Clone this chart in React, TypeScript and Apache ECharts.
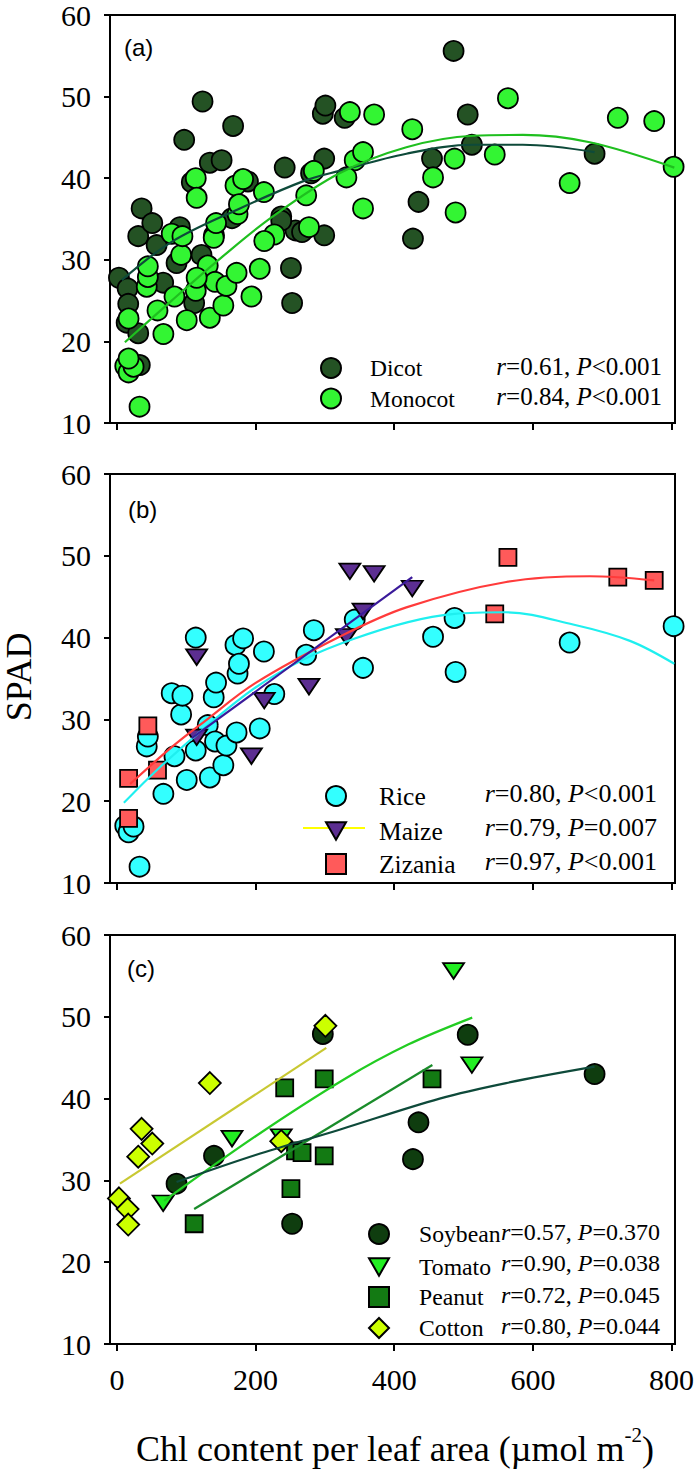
import React, { useEffect, useRef } from 'react';
import * as echarts from 'echarts';

// ---------- tick values ----------
const xTicks = [0, 200, 400, 600, 800];

// ---------- panel (b): monocots ----------
const rice: [number, number][] = [
  [12, 17.0], [16.8, 16.2], [24, 16.9], [32.6, 12.0], [43, 26.7], [44.6, 27.9], [67, 20.9],
  [79, 33.2], [83, 25.5], [92.6, 30.6], [94.5, 32.9], [100.7, 22.6], [113.7, 40.0], [113.7, 26.2],
  [131, 29.3], [134, 22.9], [139.6, 32.7], [141.5, 27.3], [143, 34.5], [153.5, 24.4], [158, 26.8],
  [171, 39.1], [172.6, 28.4], [174, 35.6], [176, 36.8], [182, 39.9], [206, 28.9], [212, 38.3],
  [227, 33.1], [273, 37.9], [284, 40.9], [343, 42.2], [355, 36.3], [456, 40.1], [487, 42.4],
  [488.5, 35.8], [653, 39.4], [803, 41.4],
];
const maize: [number, number][] = [
  [115, 37.6], [115, 27.8], [194, 25.5], [212.5, 32.3], [277, 34.0], [331, 40.1], [336, 48.1],
  [355, 43.2], [371, 47.8], [426, 46.0],
];
const zizania: [number, number][] = [
  [16.8, 17.9], [16.8, 22.8], [44.6, 29.2], [58.5, 23.8], [545, 42.9], [564, 49.8], [722.5, 47.4], [775, 47.0],
];

// ---------- panel (c): dicots ----------
const soybean: [number, number][] = [
  [86, 29.6], [140, 33.0], [252.7, 24.7], [297, 47.9], [427, 32.6], [435, 37.1], [506, 47.8], [689, 43.0],
];
const tomato: [number, number][] = [
  [66.7, 27.2], [166, 35.1], [237, 35.3], [485.6, 55.6], [512, 44.1],
];
const peanut: [number, number][] = [
  [111.4, 24.7], [242, 41.3], [251, 29.0], [257.6, 33.6], [267, 33.4], [299, 42.4], [299, 33.0], [454.5, 42.4],
];
const cotton: [number, number][] = [
  [2.9, 27.8], [15.4, 26.5], [16.3, 24.6], [30.7, 32.9], [35.6, 36.3], [51, 34.5], [134, 41.9], [237, 34.8], [300.7, 48.9],
];

// ---------- panel (a) ----------
const otherDicot: [number, number][] = [
  [14, 22.3], [30.7, 21.0], [33, 17.1], [57.2, 31.8], [90.8, 34.0], [97, 44.7], [108, 39.5],
  [122, 30.6], [123.5, 49.4], [151, 42.2], [167.6, 46.4], [189, 39.6], [280, 40.6], [328.5, 47.4],
];
const dicot = [...soybean, ...tomato, ...peanut, ...cotton, ...otherDicot];
const monocot = [...rice, ...maize, ...zizania];

// ---------- fitted curves ----------
const dicotFit: [number, number][] = [
  [7, 27.5], [79, 32.2], [175, 36.2], [271, 39.7], [321, 40.9], [417.5, 43.0], [513.5, 44.1], [585.5, 44.1], [689, 43.2],
];
const monocotFit: [number, number][] = [
  [11.5, 19.9], [79, 25.0], [151, 30.3], [223, 35.2], [321, 40.6], [417.5, 43.8], [513.5, 45.2], [585.5, 45.3], [682, 44.4], [804, 41.3],
];
const riceFit: [number, number][] = [
  [10, 19.8], [60, 24.0], [127, 29.0], [200, 33.9], [271, 37.4], [340, 39.8], [420, 41.9], [487, 42.9],
  [560, 43.1], [658, 41.6], [740, 39.6], [804, 36.8],
];
const maizeFit: [number, number][] = [[108, 27.7], [426, 47.4]];
const zizaniaFit: [number, number][] = [
  [19, 22.1], [79, 26.6], [127, 29.8], [199, 34.4], [321, 40.1], [417.5, 43.7], [561.5, 46.8], [682, 47.5], [775, 47.0],
];
const soybeanFit: [number, number][] = [[86, 29.8], [200, 33.1], [321, 36.2], [465.5, 40.0], [561.5, 41.9], [689, 43.9]];
const tomatoFit: [number, number][] = [[68, 27.5], [200, 35.4], [328.5, 42.4], [420, 46.6], [512.5, 49.9]];
const peanutFit: [number, number][] = [[111.4, 26.5], [455, 44.1]];
const cottonFit: [number, number][] = [[4.3, 29.6], [302, 46.2]];

// ---------- legend statistics ----------
const statsA = [['0.61', '<0.001'], ['0.84', '<0.001']];
const statsB = [['0.80', '<0.001'], ['0.79', '=0.007'], ['0.97', '<0.001']];
const statsC = [['0.57', '=0.370'], ['0.90', '=0.038'], ['0.72', '=0.045'], ['0.80', '=0.044']];

const SERIF = 'Liberation Serif';
const SANS = 'Liberation Sans';
const TRI_DOWN = 'path://M0,0L10,0L5,8.66Z';

const GRID_TOPS = [14, 474, 935];
const GRID_H = 409;

function scatter(name: string, data: [number, number][], idx: number, color: string, symbol: string, size: any) {
  return {
    type: 'scatter', name, data, xAxisIndex: idx, yAxisIndex: idx,
    symbol, symbolSize: size, symbolKeepAspect: true,
    itemStyle: { color, borderColor: '#000', borderWidth: 1.8, opacity: 1 },
    emphasis: { disabled: true }, silent: true,
  };
}
function fit(name: string, data: [number, number][], idx: number, color: string) {
  return {
    type: 'line', name, data, xAxisIndex: idx, yAxisIndex: idx,
    showSymbol: false, symbol: 'none', smooth: 0.35,
    lineStyle: { color, width: 2.2 }, emphasis: { disabled: true }, silent: true, z: 3,
  };
}
function statText(x: number, y: number, r: string, p: string, size: number) {
  const base = { fontFamily: SERIF, fontSize: size, fill: '#000' };
  return {
    type: 'text', x, y, z: 10,
    style: {
      text: `{i|r}=${r}, {i|P}${p}`,
      ...base,
      align: 'right', verticalAlign: 'middle',
      rich: { i: { ...base, fontStyle: 'italic' } },
    },
  };
}
// one legend component per row, so each row sits exactly where it is in the figure
function legendRow(name: string, cx: number, cy: number, textX: number, size: number) {
  return {
    data: [name], orient: 'vertical', left: cx - 10, top: cy - 10,
    itemWidth: 20, itemHeight: 20, padding: 0, selectedMode: false,
    textStyle: { fontFamily: SERIF, fontSize: size, color: '#000', padding: [0, 0, 0, textX - (cx + 15)] },
  };
}

export default function App() {
  const ref = useRef<HTMLDivElement>(null);
  useEffect(() => {
    document.body.style.margin = '0';
    document.body.style.overflow = 'hidden';
    const chart = echarts.init(ref.current!, null, { renderer: 'svg' });

    const grid = GRID_TOPS.map((t) => ({
      left: 110, right: 25, top: t, height: GRID_H,
      show: true, borderColor: '#000', borderWidth: 2, backgroundColor: 'transparent',
    }));
    const xAxis = GRID_TOPS.map((_, i) => ({
      type: 'value', gridIndex: i, min: -10, max: 805,
      axisLine: { show: true, onZero: false, lineStyle: { color: '#000', width: 2 } },
      axisTick: { show: true, customValues: xTicks, length: 7, lineStyle: { color: '#000', width: 2 } },
      axisLabel: { show: i === 2, customValues: xTicks, fontFamily: SERIF, fontSize: 30, color: '#000', margin: 20 },
      splitLine: { show: false },
    }));
    const yAxis = GRID_TOPS.map((_, i) => ({
      type: 'value', gridIndex: i, min: 10, max: 60, interval: 10,
      axisLine: { show: true, onZero: false, lineStyle: { color: '#000', width: 2 } },
      axisTick: { show: true, length: 6, lineStyle: { color: '#000', width: 2 } },
      axisLabel: { fontFamily: SERIF, fontSize: 30, color: '#000', margin: 19 },
      splitLine: { show: false },
    }));

    const series: any[] = [
      scatter('Dicot', dicot, 0, '#245224', 'circle', 20),
      scatter('Monocot', monocot, 0, '#33f533', 'circle', 20),
      fit('Dicot fit', dicotFit, 0, '#0e4a3a'),
      fit('Monocot fit', monocotFit, 0, '#1fbf1f'),

      scatter('Rice', rice, 1, '#33ffff', 'circle', 20),
      scatter('Maize', maize, 1, '#5c2e91', TRI_DOWN, [21, 18]),
      scatter('Zizania', zizania, 1, '#ff5a5a', 'rect', 17),
      fit('Rice fit', riceFit, 1, '#1fefef'),
      fit('Zizania fit', zizaniaFit, 1, '#ff3b3b'),
      fit('Maize fit', maizeFit, 1, '#3a1a9a'),

      scatter('Soybean', soybean, 2, '#0f3d0f', 'circle', 20),
      scatter('Tomato', tomato, 2, '#22ee22', TRI_DOWN, [21, 18]),
      scatter('Peanut', peanut, 2, '#137a13', 'rect', 17),
      scatter('Cotton', cotton, 2, '#ccff00', 'diamond', 22),
      fit('Cotton fit', cottonFit, 2, '#c8c832'),
      fit('Tomato fit', tomatoFit, 2, '#22cc22'),
      fit('Peanut fit', peanutFit, 2, '#1a8c2a'),
      fit('Soybean fit', soybeanFit, 2, '#0e4a3a'),
    ];

    const graphic: any[] = [
      { type: 'text', x: 124, y: 47, style: { text: '(a)', fontFamily: SANS, fontSize: 24, fill: '#000', verticalAlign: 'middle' } },
      { type: 'text', x: 128, y: 509, style: { text: '(b)', fontFamily: SANS, fontSize: 24, fill: '#000', verticalAlign: 'middle' } },
      { type: 'text', x: 127, y: 968, style: { text: '(c)', fontFamily: SANS, fontSize: 24, fill: '#000', verticalAlign: 'middle' } },
      {
        type: 'text', x: 19, y: 677, rotation: Math.PI / 2,
        style: { text: 'SPAD', fontFamily: SERIF, fontSize: 36, fill: '#000', align: 'center', verticalAlign: 'middle' },
      },
      {
        type: 'text', x: 395, y: 1449,
        style: {
          text: '{t|Chl content per leaf area (µmol m}{s|-2}{t|)}',
          align: 'center', verticalAlign: 'middle', fontFamily: SERIF, fontSize: 36, fill: '#000',
          rich: {
            t: { fontFamily: SERIF, fontSize: 36, fill: '#000', lineHeight: 50 },
            s: { fontFamily: SERIF, fontSize: 21, fill: '#000', lineHeight: 22, verticalAlign: 'top' },
          },
        },
      },
      { type: 'line', z: 0, shape: { x1: 303, y1: 828, x2: 365, y2: 828 }, style: { stroke: '#ffff00', lineWidth: 2 } },
      ...statsA.map((s, i) => statText(662, 366 + i * 30.5, s[0], s[1], 25)),
      ...statsB.map((s, i) => statText(657, 793 + i * 34, s[0], s[1], 26)),
      ...statsC.map((s, i) => statText(660, 1232 + i * 31.4, s[0], s[1], 24)),
    ];

    chart.setOption({
      animation: false,
      backgroundColor: '#fff',
      textStyle: { fontFamily: SERIF },
      grid, xAxis, yAxis, series,
      legend: [
        legendRow('Dicot', 330, 366, 369, 23.5),
        legendRow('Monocot', 330, 396.5, 369, 23.5),
        legendRow('Rice', 335, 793, 378, 25.5),
        legendRow('Maize', 335, 828, 378, 25.5),
        legendRow('Zizania', 335, 861, 378, 25.5),
        legendRow('Soybean', 378, 1232, 418, 23.7),
        legendRow('Tomato', 378, 1265, 418, 23.7),
        legendRow('Peanut', 378, 1295, 418, 23.7),
        legendRow('Cotton', 378, 1326, 418, 23.7),
      ],
      graphic,
    });
    return () => chart.dispose();
  }, []);
  return <div ref={ref} style={{ width: 700, height: 1473 }} />;
}
